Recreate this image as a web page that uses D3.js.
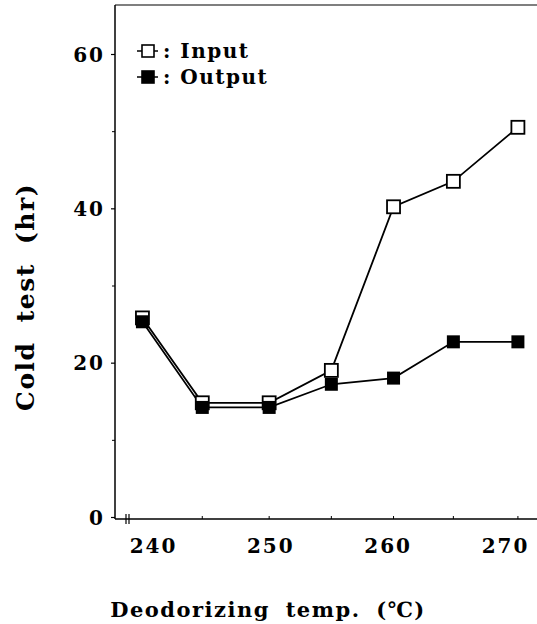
<!DOCTYPE html>
<html><head><meta charset="utf-8">
<script src="https://cdn.jsdelivr.net/npm/d3@7"></script>
<style>
html,body{margin:0;padding:0;background:#fff;}
svg text{font-family:"DejaVu Serif",serif;font-weight:bold;fill:#000;}
</style></head>
<body><svg id="c" width="537" height="624"></svg>
<script>
// Data
const temps = [239.1, 244.2, 249.9, 255.2, 260.5, 265.6, 271.1];
const inputVals = [25.8, 14.8, 14.8, 19.0, 40.2, 43.5, 50.5];
const outputVals = [25.3, 14.2, 14.2, 17.2, 18.0, 22.7, 22.7];
const xTicks = [240, 250, 260, 270];
const yTicks = [0, 20, 40, 60];
const yMinor = [10, 30, 50];
const seriesNames = ["Input", "Output"];

const svg = d3.select("#c");
const x = d3.scaleLinear().domain([240, 270]).range([153, 505]);
const y = d3.scaleLinear().domain([0, 60]).range([517, 54]);
const pL = 115, pR = 537, pT = 5, pB = 519;

// frame
svg.append("line").attr("x1", pL).attr("x2", pL).attr("y1", pT).attr("y2", pB).attr("stroke", "#000").attr("stroke-width", 1.5);
svg.append("line").attr("x1", pL).attr("x2", pR).attr("y1", pT).attr("y2", pT).attr("stroke", "#000").attr("stroke-width", 1.2);
svg.append("line").attr("x1", pL).attr("x2", pR).attr("y1", pB).attr("y2", pB).attr("stroke", "#000").attr("stroke-width", 1.5);

// y axis ticks + labels
const yAxis = d3.axisLeft(y).tickValues(yTicks).tickSize(4).tickPadding(6).tickFormat(d3.format("d"));
const gy = svg.append("g").attr("transform", `translate(${pL},0)`).call(yAxis);
gy.select(".domain").remove();
gy.selectAll("text").style("font-size", "20px").attr("letter-spacing", "2px").attr("dy", "0.35em");
gy.selectAll("line").attr("stroke-width", 1.2);
const gym = svg.append("g").attr("transform", `translate(${pL},0)`).call(d3.axisLeft(y).tickValues(yMinor).tickSize(3).tickFormat(""));
gym.select(".domain").remove();

// x axis labels
const xAxis = d3.axisBottom(x).tickValues(xTicks).tickSize(0).tickPadding(20).tickFormat(d3.format("d"));
const gx = svg.append("g").attr("transform", `translate(0,${pB})`).call(xAxis);
gx.select(".domain").remove();
gx.selectAll("text").style("font-size", "20px").attr("letter-spacing", "2px");
// small inner ticks at measurement temps
svg.append("g").selectAll("line").data(temps.slice(1)).join("line")
  .attr("x1", d => x(d)).attr("x2", d => x(d)).attr("y1", pB).attr("y2", pB - 3)
  .attr("stroke", "#000").attr("stroke-width", 1);

// axis break mark
[126, 129].forEach(px => svg.append("line").attr("x1", px).attr("x2", px).attr("y1", pB - 5).attr("y2", pB + 5).attr("stroke", "#000").attr("stroke-width", 1.2));

// titles
svg.append("text").attr("transform", "translate(34,297) rotate(-90)").attr("text-anchor", "middle")
  .style("font-size", "25px").attr("letter-spacing", "1.5px").attr("word-spacing", "9px").text("Cold test (hr)");
svg.append("text").attr("x", 268).attr("y", 617).attr("text-anchor", "middle")
  .style("font-size", "21px").attr("letter-spacing", "1.5px").attr("word-spacing", "7px").text("Deodorizing temp. (℃)");

// lines
const line = d3.line().x((d, i) => x(temps[i])).y(d => y(d));
[inputVals, outputVals].forEach(vals => {
  svg.append("path").datum(vals).attr("d", line).attr("fill", "none").attr("stroke", "#000").attr("stroke-width", 1.8);
});
// markers: input (open) first, output (filled) on top
const ms = 13;
svg.append("g").selectAll("rect").data(inputVals).join("rect")
  .attr("x", (d, i) => x(temps[i]) - ms / 2).attr("y", d => y(d) - ms / 2)
  .attr("width", ms).attr("height", ms).attr("fill", "#fff").attr("stroke", "#000").attr("stroke-width", 1.8);
svg.append("g").selectAll("rect").data(outputVals).join("rect")
  .attr("x", (d, i) => x(temps[i]) - ms / 2).attr("y", d => y(d) - ms / 2)
  .attr("width", ms).attr("height", ms).attr("fill", "#000");

// legend
const leg = svg.append("g");
seriesNames.forEach((name, i) => {
  const ly = 51 + i * 26;
  leg.append("line").attr("x1", 137).attr("x2", 158).attr("y1", ly).attr("y2", ly).attr("stroke", "#000").attr("stroke-width", 1.5);
  leg.append("rect").attr("x", 148 - 6).attr("y", ly - 6).attr("width", 12).attr("height", 12)
    .attr("fill", i === 0 ? "#fff" : "#000").attr("stroke", "#000").attr("stroke-width", 1.6);
  leg.append("text").attr("x", 163).attr("y", ly + 7).style("font-size", "20px").attr("letter-spacing", "1.5px").text(": " + name);
});
</script></body></html>
